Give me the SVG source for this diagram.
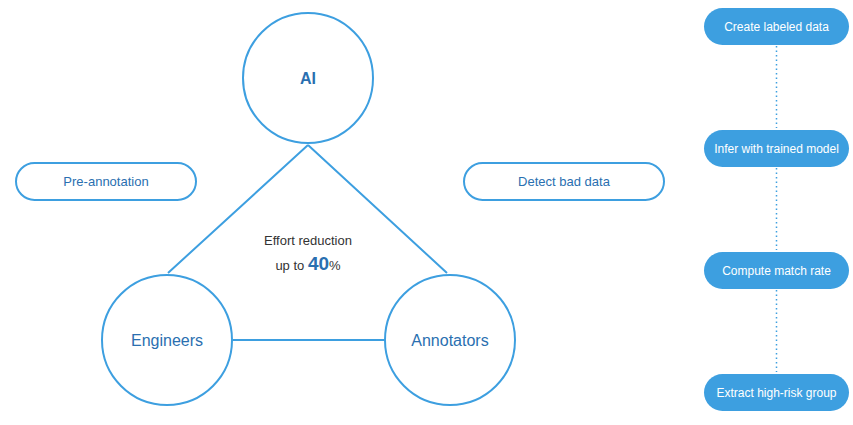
<svg xmlns="http://www.w3.org/2000/svg" width="853" height="425" viewBox="0 0 853 425">
<style>
.c{fill:#fff;stroke:#3d9fe0;stroke-width:2}
.o{fill:#fff;stroke:#3d9fe0;stroke-width:2}
.f{fill:#3d9fe0}
.t{font-family:"Liberation Sans",Arial,sans-serif;text-anchor:middle}
.bl{fill:#2a6fb0;font-size:16px}
.w{fill:#fff;font-size:12px}
.ln{stroke:#3d9fe0;stroke-width:2;fill:none}
.dt{stroke:#3d9fe0;stroke-width:1.5;stroke-dasharray:1.5 3;fill:none}
</style>
<rect width="853" height="425" fill="#fff"/>
<g id="connectors">
<path class="ln" d="M308 145 L168 273 M308 145 L447 273 M233 340 L385 340"/>
<path class="dt" d="M776.5 46 V128 M776.5 168 V250 M776.5 290 V372"/>
</g>
<g id="ai"><circle class="c" cx="308" cy="78" r="65"/><text class="t bl" x="308" y="84" font-weight="bold" font-size="17">AI</text></g>
<g id="engineers"><circle class="c" cx="167" cy="340" r="65"/><text class="t bl" x="167" y="346" font-size="15">Engineers</text></g>
<g id="annotators"><circle class="c" cx="450" cy="340" r="65"/><text class="t bl" x="450" y="346" font-size="15">Annotators</text></g>
<g id="center"><text class="t" x="308" y="245" font-size="13" fill="#333">Effort reduction</text>
<text class="t" x="308" y="270" font-size="13" fill="#333">up to <tspan fill="#2a6fb0" font-weight="bold" font-size="19">40</tspan>%</text></g>
<g id="pre"><rect class="o" x="16" y="163" width="180" height="37" rx="18.5"/><text class="t" x="106" y="186" font-size="13" fill="#2a6fb0">Pre-annotation</text></g>
<g id="detect"><rect class="o" x="464" y="163" width="200" height="37" rx="18.5"/><text class="t" x="564" y="186" font-size="13" fill="#2a6fb0">Detect bad data</text></g>
<g id="s1"><rect class="f" x="704" y="8" width="145" height="37" rx="18.5"/><text class="t w" x="776.5" y="31">Create labeled data</text></g>
<g id="s2"><rect class="f" x="704" y="130" width="145" height="37" rx="18.5"/><text class="t w" x="776.5" y="153">Infer with trained model</text></g>
<g id="s3"><rect class="f" x="704" y="252" width="145" height="37" rx="18.5"/><text class="t w" x="776.5" y="275">Compute match rate</text></g>
<g id="s4"><rect class="f" x="704" y="374" width="145" height="37" rx="18.5"/><text class="t w" x="776.5" y="397">Extract high-risk group</text></g>
</svg>
